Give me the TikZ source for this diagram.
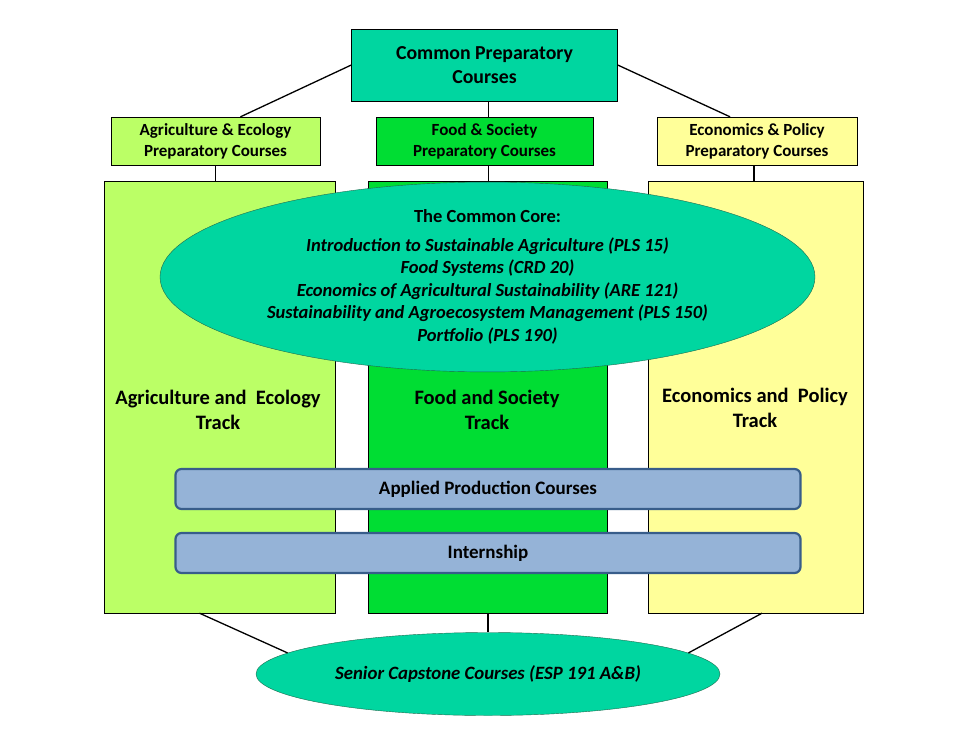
\documentclass[tikz,border=0pt]{standalone}
\usepackage{fontspec}
\setmainfont{Carlito}
\usepackage{tikz}
\usetikzlibrary{shapes}
\usetikzlibrary{calc}

\definecolor{coreteal}{HTML}{00D6A0}
\definecolor{agrigreen}{HTML}{BBFF66}
\definecolor{foodgreen}{HTML}{00DD33}
\definecolor{econyellow}{HTML}{FFFF99}
\definecolor{barblue}{HTML}{95B3D7}
\definecolor{barborder}{HTML}{385D8A}
\definecolor{ovalborder}{HTML}{1E6B4E}

\begin{document}
\begin{tikzpicture}[x=1pt, y=-1pt,
        box_style/.style={rectangle,draw=black,inner sep=0pt,align=center,font=\bfseries\fontsize{17}{21}\selectfont},
        track_style/.style={rectangle,draw=black,inner sep=0pt,minimum height=432pt},
        label_style/.style={align=center,font=\bfseries\fontsize{20.5}{25}\selectfont},
        oval_style/.style={ellipse,draw=ovalborder,fill=coreteal,inner sep=0pt,align=center},
        bar_style/.style={rectangle,rounded corners=6pt,draw=barborder,line width=2.2pt,fill=barblue,
                minimum width=625pt,minimum height=40pt,font=\bfseries\fontsize{19}{22}\selectfont},
        edge_style/.style={draw=black, line width=1.3pt}]

        \useasboundingbox (0,0) rectangle (967,731);

        \node [box_style,fill=coreteal,minimum width=266pt,minimum height=72pt,font=\bfseries\fontsize{19.8}{24}\selectfont](common) at (484.5,65) {Common Preparatory\\Courses};

        \node [box_style,fill=agrigreen,minimum width=209pt,minimum height=48pt](agprep) at (215.5,141) {Agriculture \& Ecology\\Preparatory Courses};

        \node [box_style,fill=foodgreen,minimum width=217pt,minimum height=48pt](foodprep) at (484.5,141) {Food \& Society\\Preparatory Courses};

        \node [box_style,fill=econyellow,minimum width=200pt,minimum height=48pt](econprep) at (757,141) {Economics \& Policy\\Preparatory Courses};

        \node [track_style,fill=agrigreen,minimum width=231pt](agtrack) at (219.5,397) {};

        \node [track_style,fill=foodgreen,minimum width=239pt](foodtrack) at (488,397) {};

        \node [track_style,fill=econyellow,minimum width=215pt](econtrack) at (756,397) {};

        \node [label_style](aglabel) at (218,410) {Agriculture and \ Ecology\\Track};

        \node [label_style](foodlabel) at (487,410) {Food and Society\\Track};

        \node [label_style](econlabel) at (755,408) {Economics and \ Policy\\Track};

        \node [oval_style,minimum width=655pt,minimum height=174pt,font=\fontsize{18.5}{22.5}\selectfont](core) at (487.5,277) {\textbf{The Common Core:}\\[6pt]
                \textbf{\textit{Introduction to Sustainable Agriculture (PLS 15)}}\\
                \textbf{\textit{Food Systems (CRD 20)}}\\
                \textbf{\textit{Economics of Agricultural Sustainability (ARE 121)}}\\
                \textbf{\textit{Sustainability and Agroecosystem Management (PLS 150)}}\\
                \textbf{\textit{Portfolio (PLS 190)}}};

        \node [bar_style](applied) at (488,489) {Applied Production Courses};

        \node [bar_style](intern) at (488,553) {Internship};

        \node [oval_style,minimum width=464pt,minimum height=83pt,font=\bfseries\itshape\fontsize{18.8}{22}\selectfont](capstone) at (488,674) {Senior Capstone Courses (ESP 191 A\&B)};

        \draw [edge_style] (common.west) -- ([xshift=25pt]agprep.north);

        \draw [edge_style] (common.east) -- ([xshift=-27pt]econprep.north);

        \draw [edge_style] ([xshift=4pt]common.south) -- ([xshift=4pt]common.south |- foodprep.north);

        \draw [edge_style] (agprep.south) -- (agprep.south |- agtrack.north);

        \draw [edge_style] ([xshift=4pt]foodprep.south) -- ([xshift=4pt]foodprep.south |- foodtrack.north);

        \draw [edge_style] ([xshift=-3pt]econprep.south) -- ([xshift=-3pt]econprep.south |- econtrack.north);

        \draw [edge_style] ([xshift=-20pt]agtrack.south) -- (capstone.174);

        \draw [edge_style] (foodtrack.south) -- (capstone.north);

        \draw [edge_style] ([xshift=6pt]econtrack.south) -- (capstone.6);

        \end{tikzpicture}
\end{document}
